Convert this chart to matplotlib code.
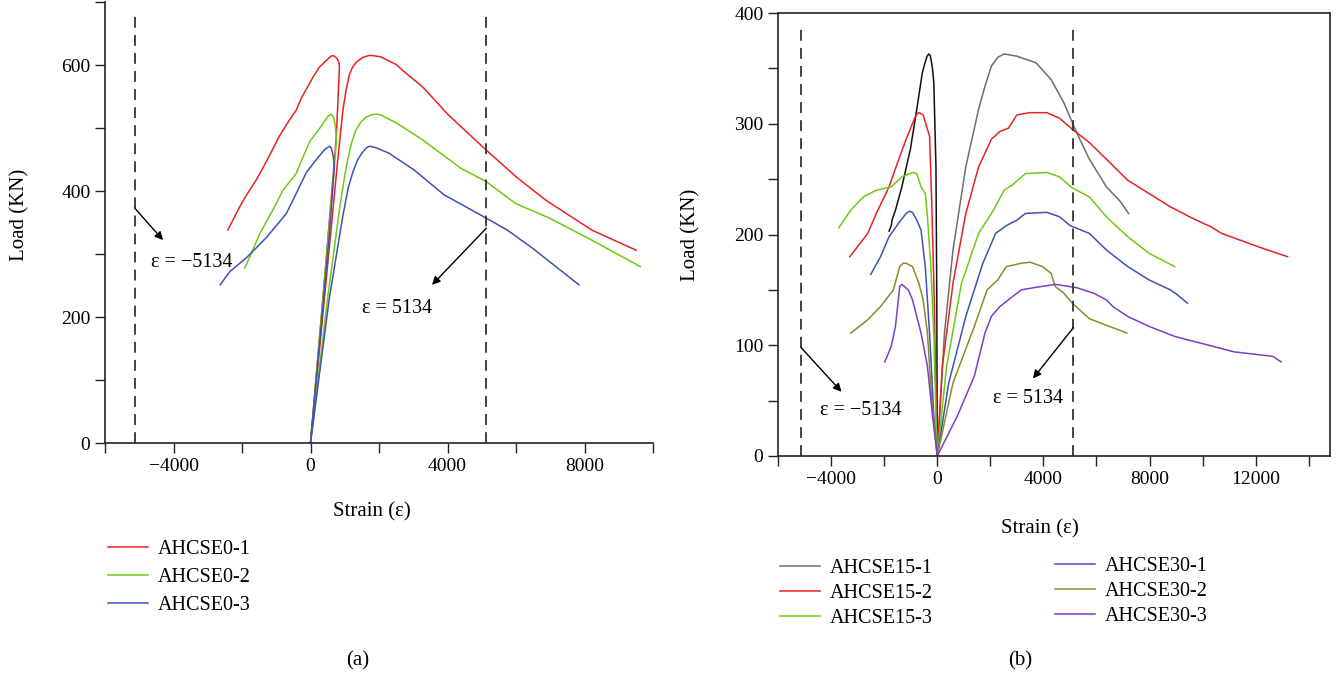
import numpy as np
import matplotlib
matplotlib.use("Agg")
import matplotlib.pyplot as plt
from matplotlib.ticker import MultipleLocator

plt.rcParams['font.family'] = ['Liberation Serif', 'DejaVu Serif']
plt.rcParams['axes.unicode_minus'] = True

# ---------------- panel (a) data ----------------
# each specimen: left (compressive side) branch and right branch, both end at (0, 0)
a_names = ['AHCSE0-1', 'AHCSE0-2', 'AHCSE0-3']
a_colors = ['#e8231f', '#6ccc14', '#3f51b5']

a0_left_x = [-2415, -2066, -1897, -1580, -1405, -1097, -900, -611, -419, -271, 75, 250, 457, 560, 631, 700, 780,
             830, 844, 824, 794, 747, 698, 400, 0]
a0_left_y = [338, 375, 391, 418, 435, 467, 488, 513, 528, 547, 581, 596, 607, 612, 615, 614, 610,
             604, 597, 571, 534, 481, 449, 254, 0]
a0_right_x = [0, 450, 794, 950, 1038, 1135, 1232, 1330, 1522, 1700, 1813, 2048, 2494, 2787, 3279, 4021,
              5130, 5994, 6856, 8212, 9507]
a0_right_y = [0, 254, 449, 530, 560, 585, 597, 604, 612, 615, 615, 613, 601, 587, 565, 521,
              465, 423, 386, 338, 306]

a1_left_x = [-1920, -1824, -1484, -1097, -805, -416, -29, 262, 400, 520, 602, 680, 727, 760, 600, 0]
a1_left_y = [278, 289, 332, 370, 401, 428, 478, 499, 510, 519, 522, 516, 502, 480, 380, 0]
a1_right_x = [0, 500, 844, 1000, 1085, 1200, 1330, 1480, 1620, 1780, 1911, 2048, 2540, 3279, 4391,
              5130, 5994, 6977, 8212, 9631]
a1_right_y = [0, 230, 370, 425, 449, 477, 497, 510, 517, 521, 522, 521, 507, 481, 436,
              415, 380, 357, 322, 280]

a2_left_x = [-2638, -2357, -1871, -1289, -707, -400, -125, 100, 262, 420, 553, 610, 660, 698, 550, 0]
a2_left_y = [251, 272, 294, 326, 364, 398, 429, 445, 456, 466, 471, 468, 456, 440, 330, 0]
a2_right_x = [0, 550, 940, 1100, 1231, 1380, 1500, 1620, 1717, 1900, 2293, 3034, 3898, 5130, 5745, 6487, 7840]
a2_right_y = [0, 230, 359, 405, 429, 450, 460, 468, 471, 469, 460, 433, 394, 357, 338, 309, 251]

# ---------------- panel (b) data ----------------
b_names = ['AHCSE15-1', 'AHCSE15-2', 'AHCSE15-3', 'AHCSE30-1', 'AHCSE30-2', 'AHCSE30-3']
b_colors = ['#6e6e6e', '#e8231f', '#6ccc14', '#3f51b5', '#8b8b2a', '#7a3fc4']
b_left_colors = ['#111111', '#e8231f', '#6ccc14', '#3f51b5', '#8b8b2a', '#7a3fc4']

b0_left_x = [-1815, -1734, -1702, -1574, -1333, -1012, -771, -562, -450, -380, -321, -270, -241, -180, -128,
             -48, -16, 0]
b0_left_y = [203, 208, 213, 222, 243, 277, 313, 346, 356, 361, 363, 362, 359, 350, 337,
             261, 141, 0]
b0_right_x = [0, 273, 594, 1076, 1558, 1800, 2040, 2280, 2521, 2760, 3003, 3726, 4288, 4770, 5252, 5733,
              6376, 6858, 7211]
b0_right_y = [0, 111, 186, 261, 313, 334, 352, 360, 363, 362, 361, 355, 340, 319, 292, 268,
              243, 231, 219]

b1_left_x = [-3292, -2939, -2618, -2297, -1815, -1494, -1172, -851, -760, -691, -600, -530, -369, -289, -209,
             -112, -48, 0]
b1_left_y = [180, 191, 201, 219, 243, 265, 286, 305, 309, 310, 309, 308, 295, 289, 231,
             141, 51, 0]
b1_right_x = [0, 193, 594, 1076, 1558, 2040, 2361, 2682, 3003, 3485, 4127, 4609, 5091, 5733, 6376,
              7179, 7982, 8785, 9588, 10311, 10713, 11516, 12319, 13201]
b1_right_y = [0, 81, 156, 219, 261, 286, 293, 296, 308, 310, 310, 305, 295, 283, 268,
              249, 237, 225, 215, 207, 201, 194, 187, 180]

b2_left_x = [-3710, -3260, -2778, -2297, -1734, -1333, -931, -771, -610, -450, -369, -241, -128, -48, 0]
b2_left_y = [206, 222, 234, 240, 243, 252, 256, 255, 243, 237, 216, 171, 111, 36, 0]
b2_right_x = [0, 353, 915, 1558, 2120, 2521, 2843, 3324, 4127, 4609, 5091, 5733, 6376, 7179, 7982, 8946]
b2_right_y = [0, 81, 156, 201, 222, 240, 245, 255, 256, 252, 242, 234, 216, 198, 183, 171]

b3_left_x = [-2505, -2136, -1815, -1494, -1172, -1050, -931, -771, -610, -450, -289, -128, 0]
b3_left_y = [164, 180, 198, 209, 219, 221, 220, 213, 204, 171, 111, 36, 0]
b3_right_x = [0, 434, 1076, 1718, 2200, 2602, 3003, 3324, 4127, 4609, 5011, 5733, 6376, 7179, 7982, 8785,
              9026, 9427]
b3_right_y = [0, 66, 126, 174, 201, 208, 213, 219, 220, 216, 208, 201, 186, 171, 159, 150,
              146, 138]

b4_left_x = [-3260, -2618, -2136, -1654, -1413, -1290, -1172, -931, -691, -530, -369, -209, 0]
b4_left_y = [111, 123, 135, 150, 171, 174, 174, 171, 156, 141, 111, 51, 0]
b4_right_x = [0, 594, 1397, 1879, 2281, 2602, 3164, 3500, 3967, 4288, 4449, 4770, 5091, 5733, 6376, 7147]
b4_right_y = [0, 66, 117, 150, 159, 171, 174, 175, 171, 165, 153, 147, 138, 124, 118, 111]

b5_left_x = [-1975, -1734, -1574, -1413, -1333, -1092, -931, -771, -610, -369, -177, 0]
b5_left_y = [85, 99, 117, 153, 155, 150, 141, 126, 111, 81, 36, 0]
b5_right_x = [0, 755, 1397, 1799, 2040, 2361, 2843, 3164, 3646, 4449, 5252, 5894, 6376, 6617,
              7179, 7982, 8946, 10391, 11194, 12640, 12961]
b5_right_y = [0, 36, 72, 111, 126, 135, 144, 150, 152, 155, 152, 147, 141, 135,
              126, 117, 108, 99, 94, 90, 85]

eps_limit = 5134

a_left = [(a0_left_x, a0_left_y), (a1_left_x, a1_left_y), (a2_left_x, a2_left_y)]
a_right = [(a0_right_x, a0_right_y), (a1_right_x, a1_right_y), (a2_right_x, a2_right_y)]
b_left = [(b0_left_x, b0_left_y), (b1_left_x, b1_left_y), (b2_left_x, b2_left_y),
          (b3_left_x, b3_left_y), (b4_left_x, b4_left_y), (b5_left_x, b5_left_y)]
b_right = [(b0_right_x, b0_right_y), (b1_right_x, b1_right_y), (b2_right_x, b2_right_y),
           (b3_right_x, b3_right_y), (b4_right_x, b4_right_y), (b5_right_x, b5_right_y)]

fs_tick = 14
fs_lab = 15
fs_leg = 14.5
fig = plt.figure(figsize=(13.37, 6.78), dpi=100)
ax1 = fig.add_axes([105 / 1337, 1 - 443 / 678, 548 / 1337, 441 / 678])
ax2 = fig.add_axes([778 / 1337, 1 - 456 / 678, 552 / 1337, 443 / 678])


def style_axis(ax):
    ax.tick_params(which='both', direction='out', length=7, width=1, labelsize=fs_tick, color='#222222')
    for s in ax.spines.values():
        s.set_linewidth(1.2)
        s.set_color('#222222')


# ---- panel (a)
lines_a = []
for (lx, ly), (rx, ry), c, n in zip(a_left, a_right, a_colors, a_names):
    ax1.plot(lx, ly, color=c, lw=1.1)
    h, = ax1.plot(rx, ry, color=c, lw=1.1, label=n)
    lines_a.append(h)

ax1.vlines([-eps_limit, eps_limit], 0, 684, colors='#333333', linestyles=(0, (6, 4)), lw=1.3)
ax1.set_xlim(-6000, 10000)
ax1.set_ylim(0, 700)
ax1.xaxis.set_major_locator(MultipleLocator(4000))
ax1.xaxis.set_minor_locator(MultipleLocator(2000))
ax1.yaxis.set_major_locator(MultipleLocator(200))
ax1.yaxis.set_minor_locator(MultipleLocator(100))
ax1.spines['top'].set_visible(False)
ax1.spines['right'].set_visible(False)
style_axis(ax1)
ax1.set_xlabel('Strain (ε)', fontsize=fs_lab)
ax1.set_ylabel('Load (KN)', fontsize=fs_lab)
ax1.xaxis.set_label_coords(0.487, -0.134)
ax1.yaxis.set_label_coords(-0.137, 0.517)

arrow = dict(arrowstyle='-|>', color='black', lw=1.0, mutation_scale=12, shrinkA=0, shrinkB=0)
ax1.annotate('', xy=(-4305, 322), xytext=(-eps_limit, 373), arrowprops=arrow)
ax1.text(-4650, 286, 'ε = −5134', fontsize=fs_leg, ha='left', va='center')
ax1.annotate('', xy=(3549, 251), xytext=(eps_limit, 341), arrowprops=arrow)
ax1.text(1500, 214, 'ε = 5134', fontsize=fs_leg, ha='left', va='center')

fig.legend(handles=lines_a, loc='upper left', bbox_to_anchor=(108 / 1337, 1 - 540 / 678),
           frameon=False, fontsize=fs_leg, handlelength=2.0, handletextpad=0.45,
           labelspacing=0.45, borderpad=0, borderaxespad=0)

# ---- panel (b)
lines_b = []
for (lx, ly), (rx, ry), c, cl, n in zip(b_left, b_right, b_colors, b_left_colors, b_names):
    ax2.plot(lx, ly, color=cl, lw=1.1)
    h, = ax2.plot(rx, ry, color=c, lw=1.1, label=n)
    lines_b.append(h)

ax2.vlines([-eps_limit, eps_limit], 0, 391, colors='#333333', linestyles=(0, (6, 4)), lw=1.3)
ax2.set_xlim(-6000, 14800)
ax2.set_ylim(0, 400)
ax2.xaxis.set_major_locator(MultipleLocator(4000))
ax2.xaxis.set_minor_locator(MultipleLocator(2000))
ax2.yaxis.set_major_locator(MultipleLocator(100))
ax2.yaxis.set_minor_locator(MultipleLocator(50))
style_axis(ax2)
ax2.set_xlabel('Strain (ε)', fontsize=fs_lab)
ax2.set_ylabel('Load (KN)', fontsize=fs_lab)
ax2.xaxis.set_label_coords(0.475, -0.142)
ax2.yaxis.set_label_coords(-0.14, 0.499)

ax2.annotate('', xy=(-3607, 58), xytext=(-eps_limit, 98), arrowprops=arrow)
ax2.text(-4430, 41.5, 'ε = −5134', fontsize=fs_leg, ha='left', va='center')
ax2.annotate('', xy=(3608, 70), xytext=(eps_limit, 116), arrowprops=arrow)
ax2.text(2090, 51.5, 'ε = 5134', fontsize=fs_leg, ha='left', va='center')

fig.legend(handles=lines_b[:3], loc='upper left', bbox_to_anchor=(780 / 1337, 1 - 559 / 678),
           frameon=False, fontsize=fs_leg, handlelength=2.0, handletextpad=0.45,
           labelspacing=0.28, borderpad=0, borderaxespad=0)
fig.legend(handles=lines_b[3:], loc='upper left', bbox_to_anchor=(1055 / 1337, 1 - 557 / 678),
           frameon=False, fontsize=fs_leg, handlelength=2.0, handletextpad=0.45,
           labelspacing=0.28, borderpad=0, borderaxespad=0)

fig.text(358 / 1337, 1 - 661 / 678, '(a)', fontsize=fs_lab, ha='center', va='center')
fig.text(1020 / 1337, 1 - 661 / 678, '(b)', fontsize=fs_lab, ha='center', va='center')

fig.savefig('out.png', dpi=100)
